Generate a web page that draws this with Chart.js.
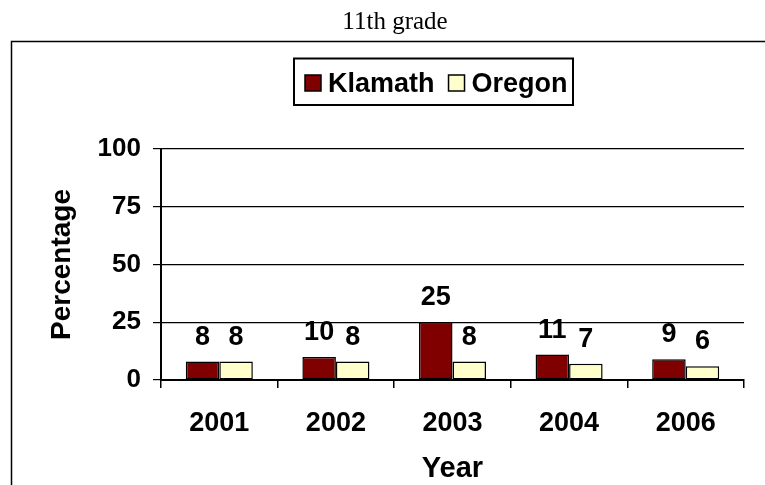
<!DOCTYPE html>
<html>
<head>
<meta charset="utf-8">
<title>11th grade</title>
<script src="https://cdn.jsdelivr.net/npm/chart.js@4/dist/chart.umd.min.js"></script>
<style>
  body { margin: 0; background: #fff; }
  canvas { display: block; }
</style>
</head>
<body>
<canvas id="grafico" width="765" height="485"></canvas>
<script>
const years = ['2001', '2002', '2003', '2004', '2006'];
const klamath = [8, 10, 25, 11, 9];
const oregon = [8, 8, 8, 7, 6];
const yTicks = [0, 25, 50, 75, 100];

const arial = "'Liberation Sans', Arial, sans-serif";

// marco exterior, titulo y leyenda con borde
const marco = {
  id: 'marco',
  afterDraw(chart) {
    const ctx = chart.ctx;
    ctx.save();
    ctx.strokeStyle = '#000';
    ctx.lineWidth = 1.5;
    ctx.strokeRect(11.5, 41.5, 800, 500);

    ctx.fillStyle = '#000';
    ctx.font = "25px 'Liberation Serif', 'Times New Roman', serif";
    ctx.textAlign = 'center';
    ctx.textBaseline = 'alphabetic';
    ctx.fillText('11th grade', 395, 29);

    ctx.lineWidth = 2;
    ctx.strokeRect(294, 58.5, 279, 46.5);

    ctx.font = 'bold 27px ' + arial;
    ctx.textAlign = 'left';
    let x = 305;
    chart.data.datasets.forEach(ds => {
      ctx.fillStyle = ds.backgroundColor;
      ctx.fillRect(x, 75, 16, 16);
      ctx.lineWidth = 1.5;
      ctx.strokeRect(x, 75, 16, 16);
      ctx.fillStyle = '#000';
      ctx.fillText(ds.label, x + 23, 92);
      x += 23 + ctx.measureText(ds.label).width + 14;
    });
    ctx.restore();
  }
};

// valores encima de cada barra
const etiquetas = {
  id: 'etiquetas',
  afterDatasetsDraw(chart) {
    const ctx = chart.ctx;
    ctx.save();
    ctx.fillStyle = '#000';
    ctx.font = 'bold 27px ' + arial;
    ctx.textAlign = 'center';
    ctx.textBaseline = 'alphabetic';
    chart.data.datasets.forEach((ds, i) => {
      chart.getDatasetMeta(i).data.forEach((bar, j) => {
        ctx.fillText(ds.data[j], bar.x, bar.y - 17);
      });
    });
    ctx.restore();
  }
};

new Chart(document.getElementById('grafico'), {
  type: 'bar',
  data: {
    labels: years,
    datasets: [
      { label: 'Klamath', data: klamath, backgroundColor: '#800000', borderColor: '#000', borderWidth: 1.5, borderSkipped: false },
      { label: 'Oregon', data: oregon, backgroundColor: '#FFFFCC', borderColor: '#000', borderWidth: 1.5, borderSkipped: false }
    ]
  },
  options: {
    responsive: false,
    animation: false,
    layout: { padding: { top: 149, right: 21, bottom: 0, left: 0 } },
    datasets: { bar: { categoryPercentage: 0.575, barPercentage: 1 } },
    plugins: {
      legend: { display: false },
      tooltip: { enabled: false }
    },
    scales: {
      x: {
        afterFit(scale) { scale.height = 105; },
        grid: { drawOnChartArea: false, color: '#000', lineWidth: 1.5, tickLength: 8 },
        border: { color: '#000', width: 2 },
        ticks: { color: '#000', padding: 19, font: { family: arial, size: 27, weight: 'bold' } },
        title: { display: true, text: 'Year', color: '#000', padding: { bottom: -1 }, font: { family: arial, size: 29, weight: 'bold' } }
      },
      y: {
        min: 0,
        max: 100,
        afterFit(scale) { scale.width = 161; },
        afterBuildTicks(scale) { scale.ticks = yTicks.map(v => ({ value: v })); },
        grid: { color: '#000', lineWidth: 1.2, tickLength: 8 },
        border: { color: '#000', width: 2 },
        ticks: { color: '#000', padding: 12, font: { family: arial, size: 26, weight: 'bold' } },
        title: { display: true, text: 'Percentage', color: '#000', padding: { top: 45 }, font: { family: arial, size: 28, weight: 'bold' } }
      }
    }
  },
  plugins: [marco, etiquetas]
});
</script>
</body>
</html>
